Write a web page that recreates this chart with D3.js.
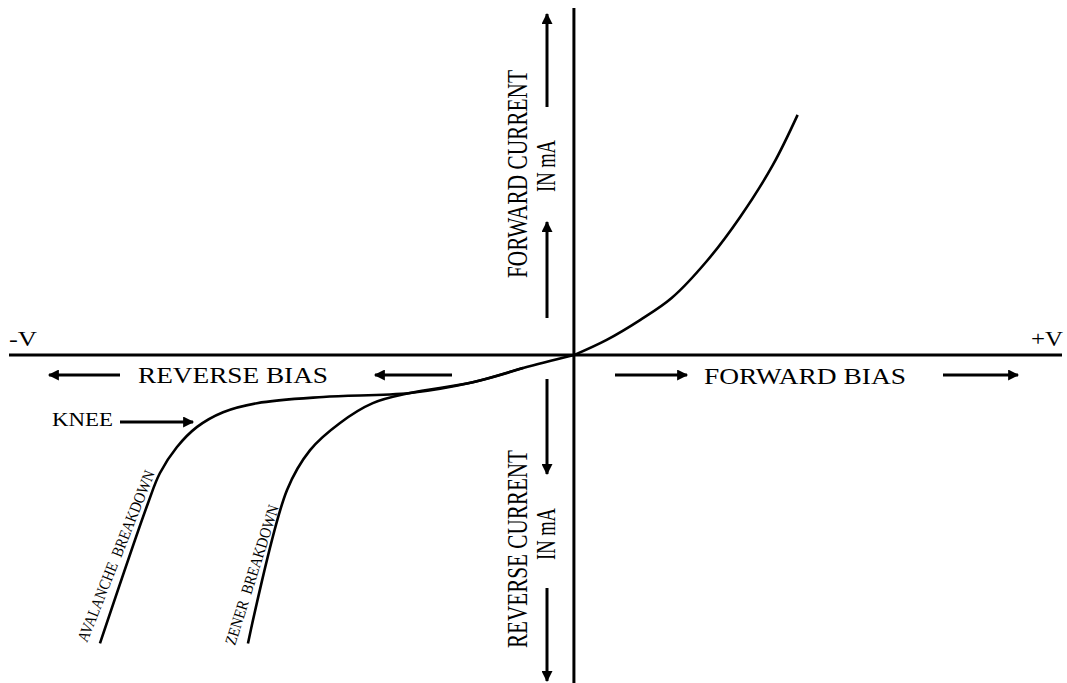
<!DOCTYPE html>
<html>
<head>
<meta charset="utf-8">
<script src="https://cdn.jsdelivr.net/npm/d3@7/dist/d3.min.js"></script>
<style>
  html, body { margin: 0; padding: 0; background: #fff; }
  svg { display: block; }
  text { font-family: "Liberation Serif", "Times New Roman", serif; fill: #000; }
</style>
</head>
<body>
<div id="chart"></div>
<script>
// diode I-V characteristic, values in figure units (voltage right, current up)
const fwdV = [0, 5.8, 11.7, 17.3, 23.5, 29.4, 35.2, 39.6];
const fwdI = [0, 2.7, 6.2, 10.1, 16.6, 24.4, 33.6, 42.5];

// leakage part shared by both reverse curves
const leakV = [0, -9.0, -17.9, -29.0];
const leakI = [0, -2.3, -4.8, -6.7];

const avalancheV = [-44.4, -56.1, -62.1, -66.7, -70.3, -73.3, -75.4, -83.9];
const avalancheI = [-7.4, -8.5, -10.1, -12.7, -16.3, -20.9, -26.2, -51.0];

const zenerV = [-35.6, -41.4, -46.7, -50.8, -57.7];
const zenerI = [-8.5, -12.0, -16.8, -23.9, -51.0];

const axisV = [-100, 86.4];
const axisI = [-58, 61.4];

const width = 1067, height = 683;

const x = d3.scaleLinear().domain(axisV).range([9, 1062]);
const y = d3.scaleLinear().domain(axisI).range([683, 8]);

const svg = d3.select("#chart").append("svg")
  .attr("width", width)
  .attr("height", height);

svg.append("defs").append("marker")
  .attr("id", "head")
  .attr("viewBox", "0 0 10 10")
  .attr("refX", 9).attr("refY", 5)
  .attr("markerUnits", "userSpaceOnUse")
  .attr("markerWidth", 15).attr("markerHeight", 11)
  .attr("orient", "auto")
  .append("path")
  .attr("d", "M0,0 L10,5 L0,10 Z")
  .attr("fill", "#000");

// axes
svg.append("line")
  .attr("x1", x(axisV[0])).attr("x2", x(axisV[1]))
  .attr("y1", y(0)).attr("y2", y(0))
  .attr("stroke", "#000").attr("stroke-width", 3);
svg.append("line")
  .attr("x1", x(0)).attr("x2", x(0))
  .attr("y1", y(axisI[1])).attr("y2", y(axisI[0]))
  .attr("stroke", "#000").attr("stroke-width", 3);

// curves
const pts = (vs, is) => vs.map((v, i) => [v, is[i]]);
const line = d3.line()
  .x(d => x(d[0]))
  .y(d => y(d[1]))
  .curve(d3.curveCatmullRom.alpha(0.5));

const curves = [
  pts(fwdV, fwdI),
  pts(leakV, leakI).concat(pts(avalancheV, avalancheI)),
  pts(leakV.slice(1), leakI.slice(1)).concat(pts(zenerV, zenerI))
];

svg.selectAll(".curve")
  .data(curves)
  .enter().append("path")
  .attr("class", "curve")
  .attr("d", line)
  .attr("fill", "none")
  .attr("stroke", "#000")
  .attr("stroke-width", 2.6);

// annotation arrows (pixel layout)
const arrows = [
  [547, 107, 547, 14], [547, 318, 547, 222],
  [547, 379, 547, 474], [547, 588, 547, 681],
  [120, 375, 49, 375], [452, 375, 375, 375],
  [120, 422, 193, 422],
  [615, 375, 687, 375], [943, 375, 1018, 375]
];
svg.selectAll(".arrow")
  .data(arrows)
  .enter().append("line")
  .attr("class", "arrow")
  .attr("x1", d => d[0]).attr("y1", d => d[1])
  .attr("x2", d => d[2]).attr("y2", d => d[3])
  .attr("stroke", "#000").attr("stroke-width", 3)
  .attr("marker-end", "url(#head)");

// labels: text, x, y, rotation, font size, length
const labels = [
  ["-V", 9, 346, 0, 20, 28],
  ["+V", 1031, 346, 0, 20, 32],
  ["REVERSE BIAS", 138, 383, 0, 24, 190],
  ["FORWARD BIAS", 704, 384, 0, 24, 202],
  ["KNEE", 52, 426, 0, 18, 61],
  ["FORWARD CURRENT", 527, 278, -90, 29, 208],
  ["IN mA", 555, 192, -90, 27, 52],
  ["REVERSE CURRENT", 527, 648, -90, 29, 198],
  ["IN mA", 555, 560, -90, 27, 52],
  ["AVALANCHE  BREAKDOWN", 87, 643, -68.2, 16, 183],
  ["ZENER  BREAKDOWN", 235, 646, -72.4, 16, 146]
];
svg.selectAll(".label")
  .data(labels)
  .enter().append("text")
  .attr("class", "label")
  .attr("transform", d => `translate(${d[1]},${d[2]}) rotate(${d[3]})`)
  .style("font-size", d => d[4] + "px")
  .style("white-space", "pre")
  .attr("textLength", d => d[5])
  .attr("lengthAdjust", "spacingAndGlyphs")
  .text(d => d[0]);
</script>
</body>
</html>
